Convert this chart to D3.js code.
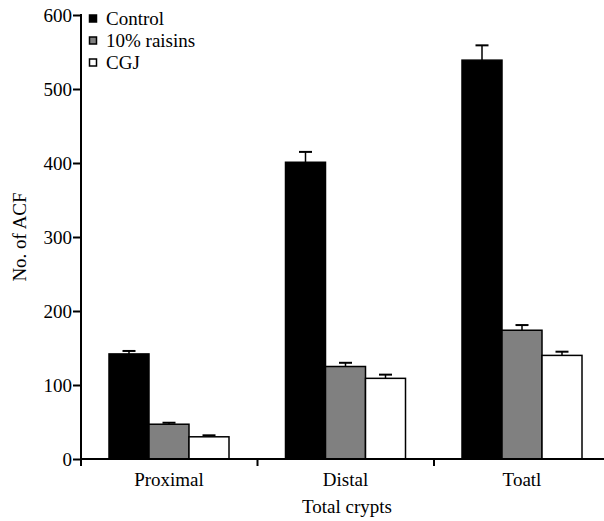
<!DOCTYPE html>
<html>
<head>
<meta charset="utf-8">
<script src="https://cdn.jsdelivr.net/npm/d3@7"></script>
<style>
  body { margin: 0; background: #fff; }
  svg { display: block; }
  svg text { font-family: "Liberation Serif", "Times New Roman", serif; fill: #000; }
</style>
</head>
<body>
<div id="chart"></div>
<script>
const categories = ['Proximal', 'Distal', 'Toatl']
const series = ['Control', '10% raisins', 'CGJ']
const control = [142, 401, 539]
const controlErr = [4, 14, 20]
const raisins = [47, 125, 174]
const raisinsErr = [2, 5, 7]
const cgj = [30, 109, 140]
const cgjErr = [2, 5, 5]
const yTicks = [0, 100, 200, 300, 400, 500, 600]

const colors = ['#000000', '#808080', '#ffffff']
const values = [control, raisins, cgj]
const errs = [controlErr, raisinsErr, cgjErr]

const width = 604
const height = 521
const plotLeft = 81
const plotBottom = 459
const plotTop = 15
const fs = 19

const svg = d3.select('#chart').append('svg')
    .attr('width', width)
    .attr('height', height)

const yScale = d3.scaleLinear()
    .domain([0, 600])
    .range([plotBottom, plotTop])

const xScale = d3.scaleBand()
    .domain(categories)
    .range([plotLeft, plotLeft + 3 * 176.5])

const sub = d3.scaleBand()
    .domain(series)
    .range([28, 148])

// bars
const data = []
categories.forEach((c, i) => {
    series.forEach((s, j) => {
        data.push({cat: c, s: s, v: values[j][i], e: errs[j][i], color: colors[j]})
    })
})

// error bars first so bar outline sits on top
const eb = svg.append('g')
data.forEach(d => {
    const cx = xScale(d.cat) + sub(d.s) + sub.bandwidth() / 2
    eb.append('line')
        .attr('x1', cx).attr('x2', cx)
        .attr('y1', yScale(d.v)).attr('y2', yScale(d.v + d.e))
        .attr('stroke', '#000').attr('stroke-width', 1.5)
    eb.append('line')
        .attr('x1', cx - 6.5).attr('x2', cx + 6.5)
        .attr('y1', yScale(d.v + d.e)).attr('y2', yScale(d.v + d.e))
        .attr('stroke', '#000').attr('stroke-width', 2)
})

svg.append('g').selectAll('rect')
    .data(data)
    .enter()
    .append('rect')
    .attr('x', d => xScale(d.cat) + sub(d.s))
    .attr('y', d => yScale(d.v))
    .attr('width', sub.bandwidth())
    .attr('height', d => plotBottom - yScale(d.v))
    .attr('fill', d => d.color)
    .attr('stroke', '#000')
    .attr('stroke-width', 1.5)

// y axis
const yAxis = d3.axisLeft(yScale)
    .tickValues(yTicks)
    .tickSize(8)
    .tickSizeOuter(0)
    .tickPadding(1)

const gy = svg.append('g')
    .attr('transform', `translate(${plotLeft}, 0)`)
    .call(yAxis)
gy.attr('font-family', null).attr('font-size', null)
gy.select('.domain').remove()
gy.selectAll('.tick line').attr('stroke-width', 2)
gy.selectAll('.tick text')
    .style('font-family', '"Liberation Serif", serif')
    .style('font-size', fs + 'px')
    .attr('fill', '#000')

svg.append('line')
    .attr('x1', plotLeft).attr('x2', plotLeft)
    .attr('y1', plotTop - 1).attr('y2', plotBottom + 7)
    .attr('stroke', '#000').attr('stroke-width', 2)

// x axis
svg.append('line')
    .attr('x1', plotLeft).attr('x2', width)
    .attr('y1', plotBottom).attr('y2', plotBottom)
    .attr('stroke', '#000').attr('stroke-width', 2)

svg.append('g').selectAll('line')
    .data(categories.slice(1))
    .enter()
    .append('line')
    .attr('x1', d => xScale(d)).attr('x2', d => xScale(d))
    .attr('y1', plotBottom).attr('y2', plotBottom + 7)
    .attr('stroke', '#000').attr('stroke-width', 2)

svg.append('g').selectAll('text')
    .data(categories)
    .enter()
    .append('text')
    .attr('x', d => xScale(d) + sub(series[1]) + sub.bandwidth() / 2)
    .attr('y', 486)
    .attr('text-anchor', 'middle')
    .style('font-size', fs + 'px')
    .text(d => d)

svg.append('text')
    .attr('x', 347)
    .attr('y', 513)
    .attr('text-anchor', 'middle')
    .style('font-size', fs + 'px')
    .text('Total crypts')

svg.append('text')
    .attr('transform', 'translate(26, 237) rotate(-90)')
    .attr('text-anchor', 'middle')
    .style('font-size', fs + 'px')
    .text('No. of ACF')

// legend
const legend = svg.append('g')
series.forEach((s, i) => {
    const y = 19 + i * 22
    legend.append('rect')
        .attr('x', 89.5).attr('y', y - 4)
        .attr('width', 7).attr('height', 7)
        .attr('fill', colors[i])
        .attr('stroke', '#000').attr('stroke-width', 1.5)
    legend.append('text')
        .attr('x', 106).attr('y', y + 6)
        .style('font-size', fs + 'px')
        .text(s)
})
</script>
</body>
</html>
